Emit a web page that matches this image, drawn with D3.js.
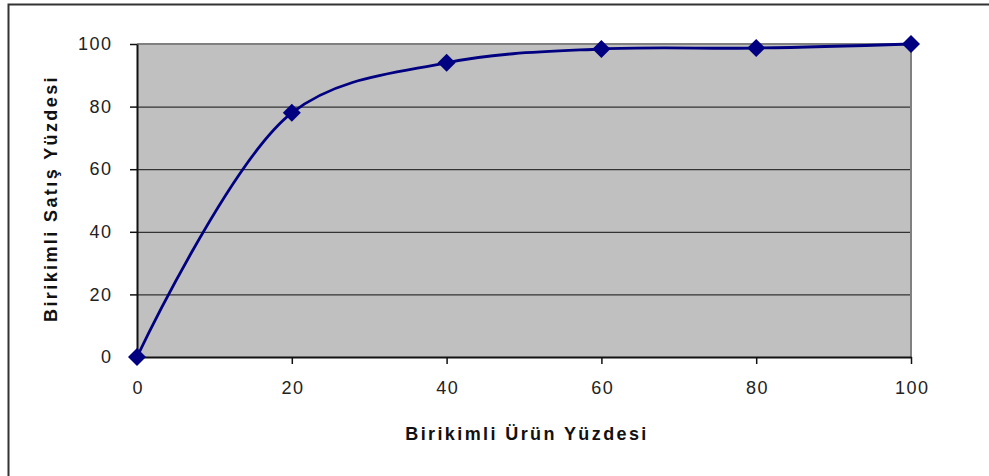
<!DOCTYPE html>
<html><head><meta charset="utf-8">
<script src="https://cdn.jsdelivr.net/npm/d3@7/dist/d3.min.js"></script>
<style>body{margin:0;background:#fff}svg{display:block}</style>
</head><body>
<script>
const xValues = [0, 20, 40, 60, 80, 100];
const yValues = [0, 78, 94, 98.4, 98.7, 100];
const xTicks = [0, 20, 40, 60, 80, 100];
const yTicks = [0, 20, 40, 60, 80, 100];
const xTitle = "Birikimli Ürün Yüzdesi";
const yTitle = "Birikimli Satış Yüzdesi";

const W = 989, H = 476;
const m = {left: 137, right: 989 - 911, top: 44, bottom: 476 - 357};
const svg = d3.select("body").append("svg").attr("width", W).attr("height", H);

// outer frame (partially visible)
svg.append("path").attr("d", `M8.5,476 L8.5,4.5 L989,4.5`).attr("fill", "none").attr("stroke", "#333").attr("stroke-width", 2);

const x = d3.scaleLinear().domain([0, 100]).range([m.left, W - m.right]);
const y = d3.scaleLinear().domain([0, 100]).range([H - m.bottom, m.top]);

svg.append("rect").attr("x", x(0)).attr("y", y(100)).attr("width", x(100) - x(0)).attr("height", y(0) - y(100)).attr("fill", "#c0c0c0");

// gridlines
svg.append("g").selectAll("line").data(yTicks.filter(d => d > 0 && d < 100)).join("line")
  .attr("x1", x(0)).attr("x2", x(100)).attr("y1", d => y(d) + 0.5).attr("y2", d => y(d) + 0.5)
  .attr("stroke", "#333").attr("stroke-width", 1.3);

// plot border top/right gray
svg.append("path").attr("d", `M${x(0)},${y(100)} L${x(100)},${y(100)} L${x(100)},${y(0)}`)
  .attr("fill", "none").attr("stroke", "#808080").attr("stroke-width", 2);

const fontFam = "'Liberation Sans', Arial, sans-serif";
// axes
const xAxis = svg.append("g").attr("transform", `translate(0,${y(0)})`)
  .call(d3.axisBottom(x).tickValues(xTicks).tickSize(7).tickPadding(17).tickSizeOuter(0));
const yAxis = svg.append("g").attr("transform", `translate(${x(0)},0)`)
  .call(d3.axisLeft(y).tickValues(yTicks).tickSize(7).tickPadding(19).tickSizeOuter(0));
[xAxis, yAxis].forEach(g => {
  g.select(".domain").attr("stroke", "#111").attr("stroke-width", 2);
  g.selectAll(".tick line").attr("stroke", "#111").attr("stroke-width", 1.5);
  g.selectAll(".tick text").attr("font-family", fontFam).attr("font-size", 18).attr("fill", "#222").attr("letter-spacing", "1.5px");
});
xAxis.selectAll(".tick text").attr("dx", "0.75px");
yAxis.selectAll(".tick text").attr("dx", "1.5px");

// line
const line = d3.line().x((d, i) => x(xValues[i])).y(d => y(d)).curve(d3.curveCatmullRom.alpha(0.5));
svg.append("path").datum(yValues).attr("d", line).attr("fill", "none").attr("stroke", "#000080").attr("stroke-width", 2.8);

// markers
svg.append("g").selectAll("path").data(yValues).join("path")
  .attr("transform", (d, i) => `translate(${x(xValues[i])},${y(d)})`)
  .attr("d", "M0,-9 L9,0 L0,9 L-9,0 Z").attr("fill", "#000080");

// titles
svg.append("text").attr("x", (x(0) + x(100)) / 2 + 3).attr("y", 440).attr("text-anchor", "middle")
  .attr("font-family", fontFam).attr("font-weight", "bold").attr("font-size", 18).attr("letter-spacing", "2.4px").attr("fill", "#111").text(xTitle);
svg.append("text").attr("transform", `translate(57,${(y(0) + y(100)) / 2 - 2}) rotate(-90)`).attr("text-anchor", "middle")
  .attr("font-family", fontFam).attr("font-weight", "bold").attr("font-size", 18).attr("letter-spacing", "2.4px").attr("fill", "#111").text(yTitle);
</script>
</body></html>
